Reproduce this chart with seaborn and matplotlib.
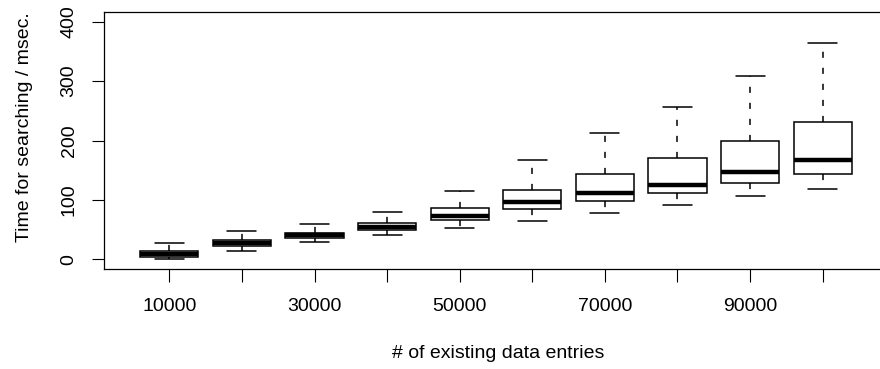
import numpy as np
import pandas as pd
import seaborn as sns
import matplotlib.pyplot as plt

# number of existing data entries
entries = [10000, 20000, 30000, 40000, 50000, 60000, 70000, 80000, 90000, 100000]
# box statistics (msec)
whisker_low = [0.5, 14.5, 29, 41, 53, 65, 78, 92, 107, 118.6]
q1 = [4.5, 22, 36, 49, 66, 85, 98, 112, 129, 143]
median = [9, 27, 41, 55, 73, 96, 112, 126, 146.5, 167]
q3 = [14.5, 32.4, 45, 61.5, 86, 117.5, 144, 170, 200, 230.5]
whisker_high = [28, 48, 59, 79, 115, 167, 213, 256, 308, 364]
xtick_labels = ['10000', '', '30000', '', '50000', '', '70000', '', '90000', '']

# five points per group give exactly these quartiles and min/max whiskers
rows = []
for i, n in enumerate(entries):
    for v in [whisker_low[i], q1[i], median[i], q3[i], whisker_high[i]]:
        rows.append({'entries': n, 'time': v})
df = pd.DataFrame(rows)

sns.set_style('white')
plt.rcParams['font.family'] = ['Liberation Sans', 'DejaVu Sans']
plt.rcParams['text.color'] = 'black'
plt.rcParams['axes.labelcolor'] = 'black'

fig = plt.figure(figsize=(8.8, 3.69), dpi=100)
ax = fig.add_axes([104 / 880, 100 / 369, 784 / 880, 257 / 369])

sns.boxplot(data=df, x='entries', y='time', order=entries, whis=(0, 100),
            width=0.8, color='white', linecolor='black', linewidth=1.1,
            showfliers=False, ax=ax,
            medianprops=dict(linewidth=3.2),
            whiskerprops=dict(linestyle=(0, (4, 6.5))))

ax.set_xlim(-0.9, 9.9)
ax.set_ylim(-16, 416)
ax.set_yticks([0, 100, 200, 300, 400])
ax.set_xticks(range(len(entries)))
ax.set_xticklabels(xtick_labels)
plt.setp(ax.get_yticklabels(), rotation=90, va='center')
ax.tick_params(axis='both', length=9, width=0.8, labelsize=14,
               colors='black', labelcolor='black', direction='out',
               left=True, bottom=True)
ax.tick_params(axis='x', pad=12)
ax.tick_params(axis='y', pad=10)

for s in ax.spines.values():
    s.set_color('black')
    s.set_linewidth(0.9)

ax.set_xlabel('# of existing data entries', fontsize=14, color='black')
ax.set_ylabel('Time for searching / msec.', fontsize=14, color='black')
ax.xaxis.set_label_coords(0.5026, -0.295)
ax.yaxis.set_label_coords(-0.09, 0.553)

fig.savefig('out.png', dpi=100)
